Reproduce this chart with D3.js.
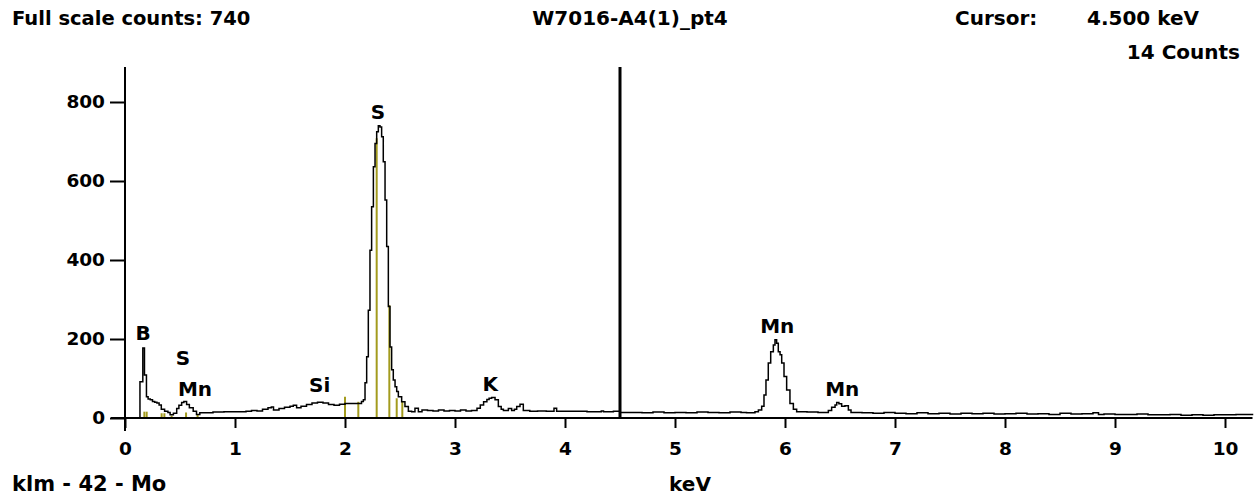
<!DOCTYPE html>
<html>
<head>
<meta charset="utf-8">
<script src="https://cdn.jsdelivr.net/npm/d3@7"></script>
<style>
  html, body { margin: 0; padding: 0; background: #ffffff; }
  svg text { font-family: "DejaVu Sans", Verdana, sans-serif; font-weight: bold; fill: #000; }
</style>
</head>
<body>
<svg id="chart" width="1257" height="500"></svg>
<script>
// ---- data ----
const energy = [0.00,0.134,0.136,0.160,0.162,0.175,0.177,0.190,0.195,0.21,0.23,0.25,0.27,0.29,0.31,0.33,0.36,0.39,0.41,0.44,0.47,0.49,0.515,0.535,0.56,0.585,0.62,0.65,0.68,0.75,0.80,0.90,1.00,1.05,1.10,1.15,1.20,1.25,1.30,1.33,1.35,1.40,1.45,1.50,1.53,1.56,1.60,1.65,1.70,1.75,1.80,1.85,1.90,1.95,2.00,2.05,2.12,2.15,2.167,2.182,2.197,2.212,2.227,2.242,2.258,2.273,2.288,2.303,2.318,2.333,2.348,2.364,2.379,2.394,2.409,2.424,2.439,2.455,2.470,2.485,2.515,2.545,2.576,2.606,2.636,2.667,2.70,2.75,2.80,2.85,2.90,2.95,3.00,3.05,3.10,3.15,3.20,3.23,3.26,3.29,3.31,3.333,3.364,3.394,3.42,3.44,3.485,3.515,3.54,3.561,3.591,3.621,3.68,3.75,3.83,3.90,3.924,4.00,4.10,4.20,4.33,4.35,4.44,4.50,4.60,4.70,4.80,4.90,5.00,5.10,5.20,5.30,5.40,5.50,5.60,5.65,5.727,5.758,5.788,5.809,5.827,5.848,5.870,5.894,5.909,5.924,5.939,5.955,5.970,5.991,6.015,6.045,6.076,6.106,6.20,6.30,6.394,6.424,6.455,6.470,6.490,6.515,6.545,6.576,6.60,6.70,6.80,6.90,7.00,7.10,7.20,7.30,7.40,7.50,7.60,7.70,7.80,7.90,8.00,8.10,8.20,8.30,8.40,8.50,8.60,8.70,8.80,8.85,8.90,9.00,9.10,9.20,9.30,9.40,9.50,9.60,9.70,9.80,9.90,10.00,10.10,10.25];
const counts = [0,0,92,92,177,177,109,109,54,48,46,42,40,38,33,22,17,14,8,12,24,32,39,42,34,26,17,9,13,13,15,16,16,16,17,19,18,22,26,28,20,24,27,30,32,26,30,34,38,40,38,34,32,35,37,37,37,42,46,89,155,273,425,535,636,695,725,740,737,712,649,552,434,282,180,122,96,79,67,54,41,29,17,16,25,16,20,19,18,20,18,19,18,20,18,19,25,33,41,47,50,52,46,29,22,19,24,19,22,29,35,19,17,18,17,25,17,17,17,16,18,16,17,14,14,13,15,13,14,13,15,14,13,15,14,13,16,20,30,58,96,139,168,185,198,189,168,160,139,105,71,37,22,16,15,14,19,27,33,39,36,30,31,20,14,13,12,14,12,11,13,11,12,10,12,11,12,10,11,12,10,11,9,12,10,11,13,9,10,9,9,10,8,8,9,7,8,7,8,8,9,7];

// element marker lines (keV, height in counts)
const markerKeV    = [0.176,0.197,0.333,0.358,0.424,0.555,0.660,2.000,2.121,2.288,2.403,2.470,2.521];
const markerCounts = [16,16,12,12,6,14,10,54,41,708,286,50,41];

// peak labels
const labelText  = ["B","S","Mn","Si","S","K","Mn","Mn"];
const labelKeV   = [0.164,0.527,0.636,1.77,2.30,3.32,5.93,6.52];
const labelCount = [197,134,56,66,757,68,215,56];

const xTicks = [0,1,2,3,4,5,6,7,8,9,10];
const yTicks = [0,200,400,600,800];
const cursorKeV = 4.5;

// ---- drawing ----
const svg = d3.select("#chart");
const x = d3.scaleLinear().domain([0, 10.25]).range([125, 1252.5]);
const y = d3.scaleLinear().domain([0, 800]).range([418, 102]);
const FS = 20;

// header texts
svg.append("text").attr("x", 12).attr("y", 25).attr("font-size", 19.5).text("Full scale counts: 740");
svg.append("text").attr("x", 630).attr("y", 25).attr("font-size", FS).attr("text-anchor", "middle").text("W7016-A4(1)_pt4");
svg.append("text").attr("x", 955).attr("y", 25).attr("font-size", FS).text("Cursor:");
svg.append("text").attr("x", 1087).attr("y", 25).attr("font-size", FS).text("4.500 keV");
svg.append("text").attr("x", 1240).attr("y", 59).attr("font-size", FS).attr("text-anchor", "end").text("14 Counts");

// marker lines
svg.append("g").selectAll("line").data(markerKeV).join("line")
  .attr("x1", d => x(d)).attr("x2", d => x(d))
  .attr("y1", y(0)).attr("y2", (d, i) => y(markerCounts[i]))
  .attr("stroke", "#a39b1e").attr("stroke-width", 2);

// spectrum
const pts = energy.map((e, i) => [e, counts[i]]);
svg.append("path").datum(pts)
  .attr("fill", "none").attr("stroke", "#000").attr("stroke-width", 1.5)
  .attr("d", d3.line().x(d => x(d[0])).y(d => y(d[1])).curve(d3.curveStepAfter));

// y axis
const yAxis = svg.append("g").attr("transform", "translate(125,0)")
  .call(d3.axisLeft(y).tickValues(yTicks).tickSize(15).tickPadding(5).tickFormat(d3.format("d")));
yAxis.select(".domain").remove();
yAxis.selectAll(".tick line").attr("stroke", "#000").attr("stroke-width", 2);
yAxis.selectAll("text").attr("font-size", 18.5).attr("font-family", "DejaVu Sans").attr("font-weight", "bold");
svg.append("line").attr("x1", 125).attr("x2", 125).attr("y1", 67).attr("y2", 431)
  .attr("stroke", "#000").attr("stroke-width", 2);

// x axis
const xAxis = svg.append("g").attr("transform", "translate(0,418)")
  .call(d3.axisBottom(x).tickValues(xTicks).tickSize(10).tickPadding(14).tickFormat(d3.format("d")));
xAxis.select(".domain").remove();
xAxis.selectAll(".tick line").attr("stroke", "#000").attr("stroke-width", 2);
xAxis.selectAll("text").attr("font-size", 18.5).attr("font-family", "DejaVu Sans").attr("font-weight", "bold");
svg.append("line").attr("x1", 111).attr("x2", 1252.5).attr("y1", 418).attr("y2", 418)
  .attr("stroke", "#000").attr("stroke-width", 2);

// cursor line
svg.append("line").attr("x1", x(cursorKeV)).attr("x2", x(cursorKeV)).attr("y1", 67).attr("y2", 418)
  .attr("stroke", "#000").attr("stroke-width", 3);

// peak labels
svg.append("g").selectAll("text").data(labelText).join("text")
  .attr("x", (d, i) => x(labelKeV[i])).attr("y", (d, i) => y(labelCount[i]))
  .attr("text-anchor", "middle").attr("font-size", FS).text(d => d);

// bottom labels
svg.append("text").attr("x", 12).attr("y", 491).attr("font-size", 21).text("klm - 42 - Mo");
svg.append("text").attr("x", 690).attr("y", 491).attr("font-size", FS).attr("text-anchor", "middle").text("keV");
</script>
</body>
</html>
